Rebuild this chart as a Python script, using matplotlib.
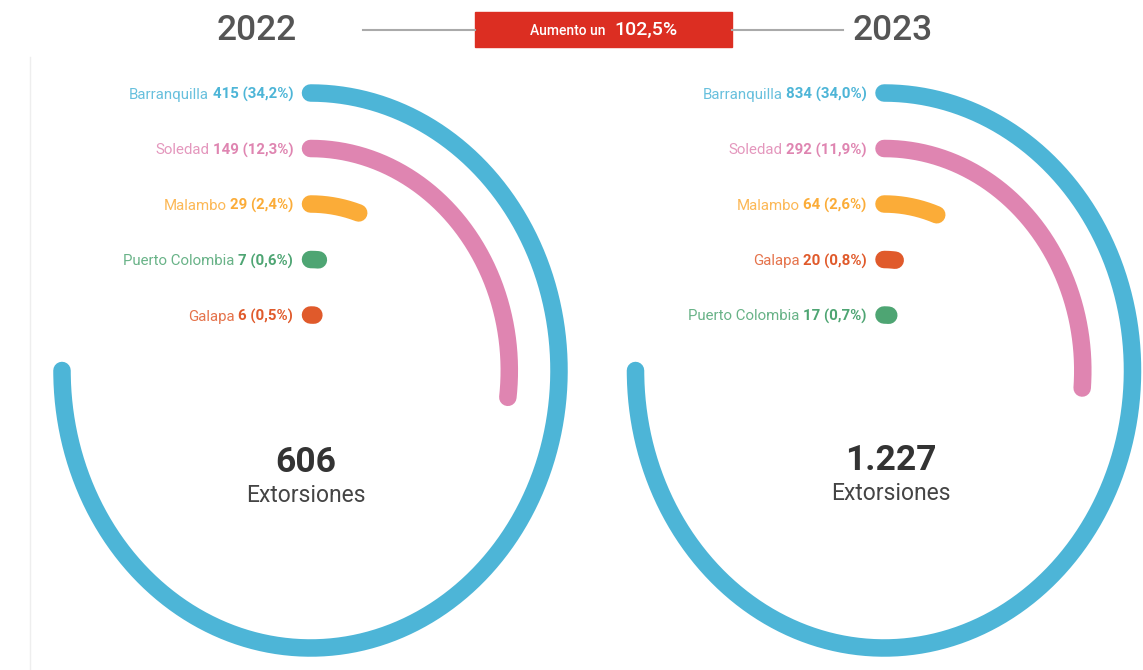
import numpy as np
import matplotlib
matplotlib.use("Agg")
import matplotlib.pyplot as plt
from matplotlib.patches import Rectangle
from matplotlib.lines import Line2D

plt.rcParams['font.family'] = ['Roboto', 'DejaVu Sans']

# Data
cities_2022 = ["Barranquilla", "Soledad", "Malambo", "Puerto Colombia", "Galapa"]
values_2022 = [415, 149, 29, 7, 6]
pcts_2022 = ["34,2%", "12,3%", "2,4%", "0,6%", "0,5%"]

cities_2023 = ["Barranquilla", "Soledad", "Malambo", "Galapa", "Puerto Colombia"]
values_2023 = [834, 292, 64, 20, 17]
pcts_2023 = ["34,0%", "11,9%", "2,6%", "0,8%", "0,7%"]

years = ["2022", "2023"]

colors = {
    "Barranquilla": "#4DB5D7",
    "Soledad": "#DF85B1",
    "Malambo": "#FBAC38",
    "Puerto Colombia": "#4EA573",
    "Galapa": "#E05A2B",
}

W, H, DPI = 1143, 670, 100
fig = plt.figure(figsize=(W / DPI, H / DPI), dpi=DPI)


def fx(x):
    return x / W


def fy(y):
    return 1 - y / H


def lighten(c, amt=0.2):
    rgb = np.array(matplotlib.colors.to_rgb(c))
    return tuple(rgb + (1 - rgb) * amt)


def fmt_total(t):
    return f"{t:,}".replace(",", ".")


RMAX = 5.6
RX_U, RY_U = 49.7, 55.5   # pixels per ring unit (horizontal, vertical)
LW = 12.6
FULL = 1.5 * np.pi        # biggest value spans three quarters
LABEL_FS = 10.8


def radial(cx, cy, cities, values, pcts):
    w = 2 * RMAX * RX_U
    h = 2 * RMAX * RY_U
    ax = fig.add_axes([fx(cx - w / 2), fy(cy + h / 2), w / W, h / H], projection='polar')
    ax.set_theta_zero_location('N')
    ax.set_theta_direction(-1)
    ax.set_ylim(0, RMAX)
    ax.set_aspect('auto')
    ax.axis('off')

    vmax = max(values)
    n = len(values)
    nums = []
    for i, (city, v, p) in enumerate(zip(cities, values, pcts)):
        r = n - i
        theta = np.linspace(0, v / vmax * FULL, 300)
        ax.plot(theta, np.full_like(theta, r), color=colors[city], lw=LW,
                solid_capstyle='round', clip_on=False)
        t = ax.annotate(f"{v} ({p})", xy=(0, r), xytext=(-12.5, 0), textcoords='offset points',
                        ha='right', va='center_baseline', fontsize=LABEL_FS, fontweight='semibold',
                        color=colors[city], annotation_clip=False)
        nums.append((t, city, r))
    return ax, nums


ax1, nums1 = radial(310.5, 370.5, cities_2022, values_2022, pcts_2022)
ax2, nums2 = radial(884, 370.5, cities_2023, values_2023, pcts_2023)

# name part of each label, placed left of the bold number
fig.canvas.draw()
renderer = fig.canvas.get_renderer()
for ax, nums in [(ax1, nums1), (ax2, nums2)]:
    for t, city, r in nums:
        wpt = t.get_window_extent(renderer).width * 72 / DPI
        ax.annotate(city, xy=(0, r), xytext=(-12.5 - wpt - 2.5, 0), textcoords='offset points',
                    ha='right', va='center_baseline', fontsize=LABEL_FS,
                    color=lighten(colors[city], 0.15), annotation_clip=False)

# centre totals
totals = [sum(values_2022), sum(values_2023)]
for cx, cy, tot in [(306, 463, totals[0]), (891, 460, totals[1])]:
    fig.text(fx(cx), fy(cy), fmt_total(tot), ha='center', va='center', fontsize=25.5,
             fontweight='semibold', color='#333333')
    fig.text(fx(cx), fy(cy + 33), "Extorsiones", ha='center', va='center', fontsize=16.5,
             color='#444444')

# header
fig.text(fx(257), fy(30), years[0], ha='center', va='center', fontsize=25.5,
         fontweight='medium', color='#555555')
fig.text(fx(893), fy(30), years[1], ha='center', va='center', fontsize=25.5,
         fontweight='medium', color='#555555')
fig.add_artist(Line2D([fx(363), fx(475)], [fy(30), fy(30)], color='#AAAAAA', lw=1.5))
fig.add_artist(Line2D([fx(732), fx(843)], [fy(30), fy(30)], color='#AAAAAA', lw=1.5))
fig.add_artist(Rectangle((fx(475), fy(47)), (732 - 475) / W, 35 / H, color='#DC2E22'))
growth = (totals[1] / totals[0] - 1) * 100
fig.text(fx(606), fy(31), "Aumento un", ha='right', va='center', fontsize=10,
         fontweight='medium', color='white')
fig.text(fx(614), fy(30), f"{growth:.1f}%".replace(".", ","), ha='left', va='center',
         fontsize=14, fontweight='medium', color='white')

# faint left rule
fig.add_artist(Line2D([fx(30), fx(30)], [fy(57), fy(670)], color='#EEEEEE', lw=1))

fig.savefig("out.png", dpi=DPI)
